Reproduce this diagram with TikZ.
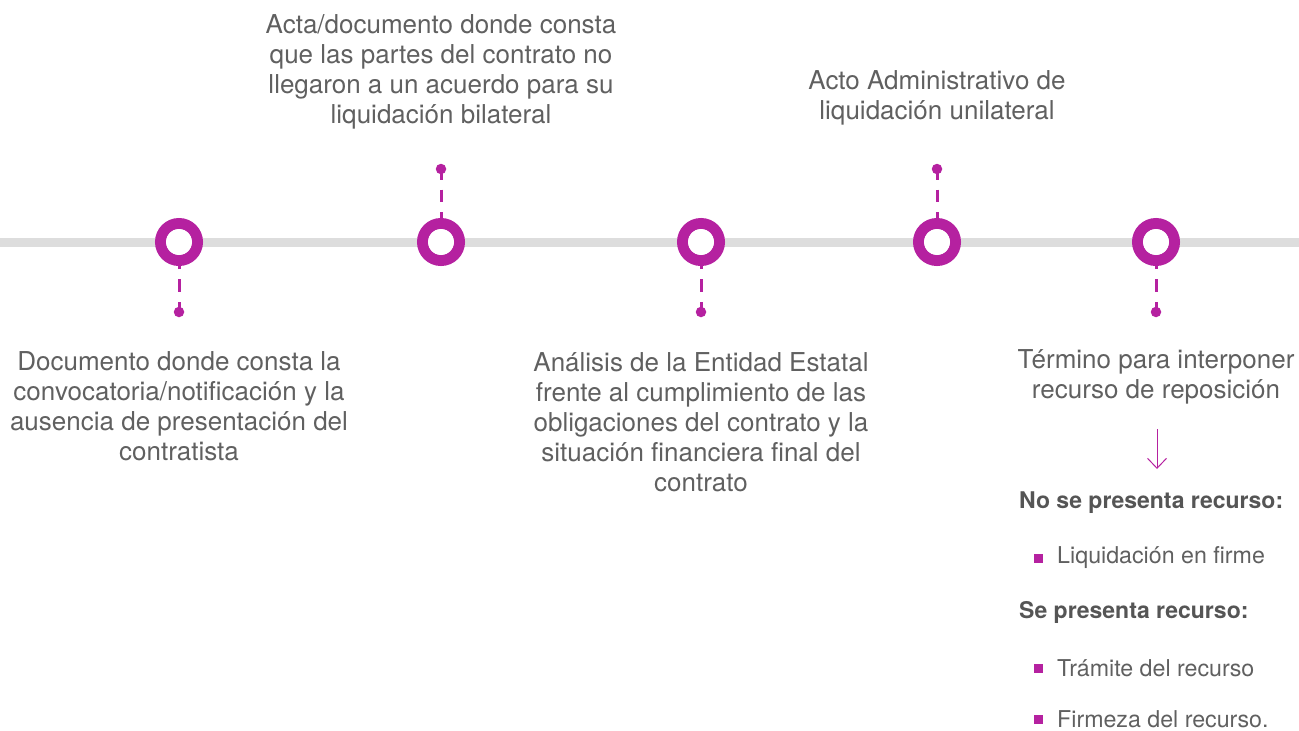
\documentclass[tikz,border=0pt]{standalone}
\usepackage{fontspec}
\setmainfont{TeX Gyre Heros}
\usetikzlibrary{arrows.meta}
\definecolor{mag}{RGB}{181,33,160}
\definecolor{txt}{RGB}{96,96,96}
\definecolor{txtb}{RGB}{85,85,85}
\definecolor{rail}{RGB}{221,221,221}
\tikzset{
  x=1pt, y=-1pt,
  ring/.style={circle, draw=mag, line width=11pt, fill=white, minimum size=37pt, inner sep=0pt},
  dot/.style={circle, fill=mag, minimum size=10.5pt, inner sep=0pt},
  dashline/.style={draw=mag, line width=3pt, dash pattern=on 12.5pt off 10pt, dash phase=2pt},
  lbl/.style={align=center, text=txt, font=\fontsize{26}{30}\selectfont, inner sep=0pt},
  head/.style={anchor=west, text=txtb, font=\bfseries\fontsize{23}{27}\selectfont, inner sep=0pt},
  item/.style={anchor=west, text=txt, font=\fontsize{23.2}{27}\selectfont, inner sep=0pt},
  bullet/.style={rectangle, fill=mag, minimum size=9pt, inner sep=0pt}
}
\begin{document}
\begin{tikzpicture}
\useasboundingbox (0,0) rectangle (1299,731);
\coordinate (L) at (0,242);
\coordinate (R) at (1299,242);
\draw[rail, line width=9pt] (L) -- (R);

\node[dot] (d1) at (179,312) {};
\node[dot] (d2) at (441,169) {};
\node[dot] (d3) at (701,312) {};
\node[dot] (d4) at (937,169) {};
\node[dot] (d5) at (1156,312) {};

\node[ring] (c1) at (179,242) {};
\node[ring] (c2) at (441,242) {};
\node[ring] (c3) at (701,242) {};
\node[ring] (c4) at (937,242) {};
\node[ring] (c5) at (1156,242) {};

\draw[dashline] (d1.center) -- (c1.center);
\draw[dashline] (d2.center) -- (c2.center);
\draw[dashline] (d3.center) -- (c3.center);
\draw[dashline] (d4.center) -- (c4.center);
\draw[dashline] (d5.center) -- (c5.center);
\foreach \c in {c1,c2,c3,c4,c5} \fill[white] (\c) circle (13pt);

\node[lbl] (t2) at (441,72) {Acta/documento donde consta\\que las partes del contrato no\\llegaron a un acuerdo para su\\liquidación bilateral};
\node[lbl] (t4) at (937,98) {Acto Administrativo de\\liquidación unilateral};
\node[lbl] (t1) at (179,406) {Documento donde consta la\\convocatoria/notificación y la\\ausencia de presentación del\\contratista};
\node[lbl] (t3) at (701,422) {Análisis de la Entidad Estatal\\frente al cumplimiento de las\\obligaciones del contrato y la\\situación financiera final del\\contrato};
\node[lbl] (t5) at (1156,377) {Término para interponer\\recurso de reposición};

\coordinate (a1) at (1157,429);
\coordinate (a2) at (1157,469);
\draw[mag, line width=1pt, -{Straight Barb[length=10pt, width=19pt, line width=1pt]}] (a1) -- (a2);

\node[head] (h1) at (1019,503) {No se presenta recurso:};
\node[bullet] (b1) at (1038.5,558) {};
\node[item] (i1) at (1057,558) {Liquidación en firme};
\node[head] (h2) at (1019,612) {Se presenta recurso:};
\node[bullet] (b2) at (1038.5,668) {};
\node[item] (i2) at (1057,668) {Trámite del recurso};
\node[bullet] (b3) at (1038.5,719) {};
\node[item] (i3) at (1057,719) {Firmeza del recurso.};
\end{tikzpicture}
\end{document}
